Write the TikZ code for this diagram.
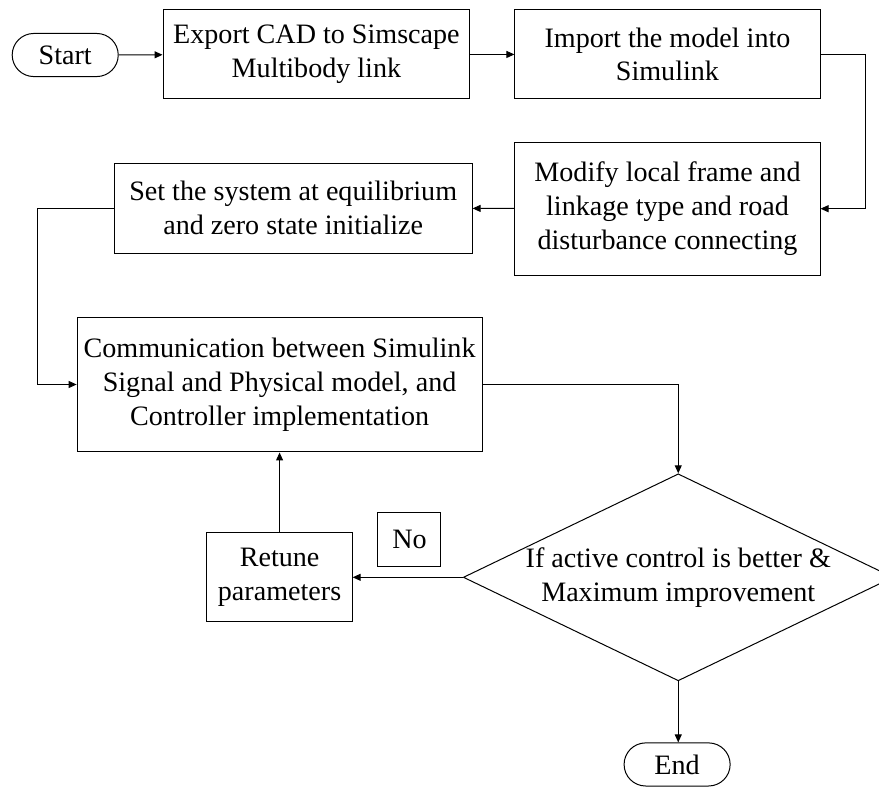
\documentclass[tikz,border=0pt]{standalone}
\usepackage{fontspec}
\setmainfont{Liberation Serif}
\usetikzlibrary{shapes.geometric,arrows.meta}

\begin{document}
\begin{tikzpicture}[scale =1,
  every node/.style={font=\fontsize{14.1}{17}\selectfont},
  procbox/.style={draw,line width=0.5pt,align=center,inner sep=0pt},
  termbox/.style={draw,line width=0.5pt,rounded corners=0.38cm,minimum width=1.87cm,minimum height=0.76cm,inner sep=0pt},
  arr/.style={-{Triangle[length=4pt,width=3.5pt]},line width=0.5pt}]
\useasboundingbox (0,0) rectangle (15.50,-13.88);
\node[termbox] (start) at (1.15,-0.97) {Start};
\node[procbox,minimum width=5.41cm,minimum height=1.57cm] (export) at (5.58,-0.96) {Export CAD to Simscape\\Multibody link};
\node[procbox,minimum width=5.38cm,minimum height=1.57cm] (import) at (11.77,-0.96) {Import the model into\\Simulink};
\node[procbox,minimum width=5.38cm,minimum height=2.35cm] (modify) at (11.77,-3.68) {Modify local frame and\\linkage type and road\\disturbance connecting};
\node[procbox,minimum width=6.31cm,minimum height=1.59cm] (equil) at (5.17,-3.67) {Set the system at equilibrium\\and zero state initialize};
\node[procbox,minimum width=7.14cm,minimum height=2.38cm] (comm) at (4.93,-6.78) {Communication between Simulink\\Signal and Physical model, and\\Controller implementation};
\node[draw,line width=0.5pt,diamond,minimum width=7.58cm,minimum height=3.65cm,inner sep=0pt] (check) at (11.96,-10.18) {};
\node[align=center] (checktext) at (check.center) {If active control is better \&\\Maximum improvement};
\node[procbox,minimum width=2.56cm,minimum height=1.57cm] (retune) at (4.93,-10.18) {Retune\\parameters};
\node[procbox,minimum width=1.11cm,minimum height=0.95cm] (no) at (7.22,-9.51) {No};
\node[termbox] (end) at (11.94,-13.48) {End};
\draw[arr] (start) -- (export);
\draw[arr] (export) -- (import);
\draw[arr] (import.east) -- ++(0.79,0) |- (modify.east);
\draw[arr] (modify) -- (equil);
\draw[arr] (equil.west) -- ++(-1.34,0) |- (comm.west);
\draw[arr] (comm.east) -| (check.north);
\draw[arr] (check.south) -- (check.south |- end.north);
\draw[arr] (check.west) -- (check.west -| retune.east);
\draw[arr] (retune.north) -- (retune.north |- comm.south);
\end{tikzpicture}
\end{document}
